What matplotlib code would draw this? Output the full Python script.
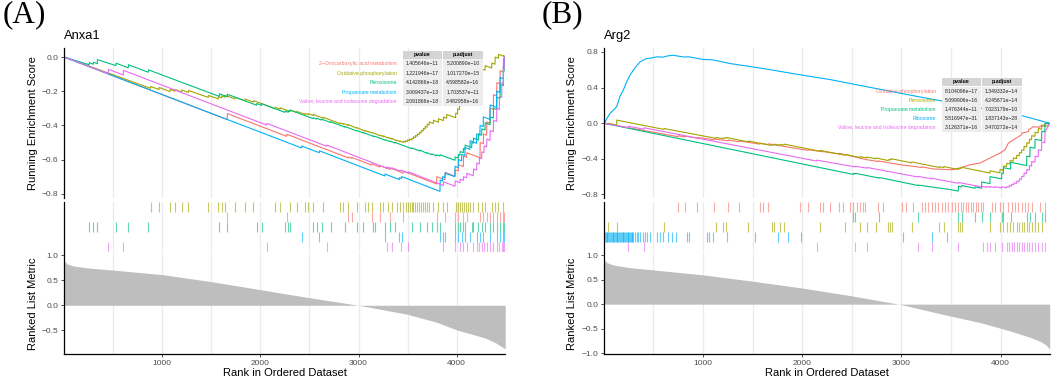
import matplotlib.pyplot as plt
from matplotlib.patches import Rectangle

plt.rcParams['font.family'] = ['Liberation Sans', 'DejaVu Sans']
plt.rcParams['axes.unicode_minus'] = True

W, H = 1052, 381
N_RANK = 4495

# ggplot hue colours
RED, OLIVE, GREEN, BLUE, PINK = '#F8766D', '#A3A500', '#00BF7D', '#00B0F6', '#E76BF3'

# ---------------- panel A : Anxa1 ----------------
a_names = ['2\u2212Oxocarboxylic acid metabolism', 'Oxidative phosphorylation', 'Peroxisome',
           'Propanoate metabolism', 'Valine, leucine and isoleucine degradation']
a_colors = [RED, OLIVE, GREEN, BLUE, PINK]
a_pvalue = ['1.405646e\u221211', '1.221946e\u221217', '4.142866e\u221218', '3.069437e\u221213', '2.091866e\u221218']
a_padjust = ['5.200890e\u221210', '1.017270e\u221215', '4.598582e\u221216', '1.703537e\u221211', '3.482958e\u221216']
a_rug_order = [1, 0, 2, 3, 4]   # top to bottom

a_oxo_rank = [0, 1662, 1664, 2267, 2269, 2895, 2897, 2929, 2931, 3133, 3135, 3218, 3220, 3320, 3322, 3456, 3458,
              3796, 3798, 3881, 3883, 3983, 3985, 4017, 4019, 4068, 4070, 4102, 4104, 4238, 4240, 4272, 4274,
              4306, 4308, 4340, 4342, 4374, 4376, 4408, 4410, 4442, 4444, 4476, 4478, 4495]
a_oxo_es = [0, -0.366, -0.331, -0.464, -0.452, -0.59, -0.585, -0.592, -0.587, -0.632, -0.625, -0.644, -0.636,
            -0.658, -0.649, -0.679, -0.668, -0.743, -0.70, -0.718, -0.675, -0.697, -0.66, -0.667, -0.63, -0.641,
            -0.58, -0.587, -0.56, -0.59, -0.50, -0.507, -0.45, -0.457, -0.38, -0.387, -0.30, -0.307, -0.22,
            -0.227, -0.15, -0.157, -0.08, -0.087, -0.01, -0.004]

a_oxphos_rank = [0, 880, 882, 966, 968, 1078, 1080, 1129, 1131, 1197, 1199, 1265, 1267, 1468, 1470, 1570, 1572,
                 1604, 1606, 1638, 1640, 1740, 1742, 1842, 1844, 1927, 1929, 2148, 2150, 2199, 2201, 2301, 2303,
                 2369, 2371, 2454, 2456, 2488, 2490, 2539, 2541, 2641, 2643, 2811, 2813, 2845, 2847, 2895, 2897,
                 2980, 2982, 3065, 3067, 3099, 3101, 3133, 3135, 3218, 3220, 3252, 3254, 3303, 3305, 3337, 3339,
                 3388, 3390, 3422, 3424, 3456, 3458, 3479, 3481, 3499, 3501, 3519, 3521, 3544, 3546, 3559, 3561,
                 3579, 3581, 3599, 3601, 3619, 3621, 3639, 3641, 3659, 3661, 3679, 3681, 3699, 3701, 3719, 3721,
                 3762, 3764, 3813, 3815, 3864, 3866, 3898, 3900, 3989, 3991, 4009, 4011, 4029, 4031, 4049, 4051,
                 4074, 4076, 4099, 4101, 4119, 4121, 4139, 4141, 4164, 4166, 4221, 4223, 4255, 4257, 4289, 4291,
                 4357, 4359, 4391, 4393, 4425, 4427, 4476, 4478, 4495]
a_oxphos_es = [0, -0.183, -0.172, -0.19, -0.178, -0.202, -0.19, -0.2, -0.19, -0.204, -0.193, -0.207, -0.196,
               -0.236, -0.225, -0.244, -0.232, -0.239, -0.228, -0.235, -0.224, -0.245, -0.235, -0.256, -0.246,
               -0.264, -0.255, -0.302, -0.294, -0.305, -0.297, -0.318, -0.311, -0.325, -0.318, -0.336, -0.33,
               -0.337, -0.331, -0.342, -0.336, -0.358, -0.353, -0.39, -0.386, -0.393, -0.389, -0.4, -0.396,
               -0.416, -0.413, -0.433, -0.43, -0.438, -0.435, -0.444, -0.44, -0.46, -0.457, -0.465, -0.461,
               -0.474, -0.47, -0.48, -0.476, -0.49, -0.486, -0.495, -0.491, -0.5, -0.493, -0.498, -0.49, -0.494,
               -0.485, -0.489, -0.48, -0.485, -0.475, -0.478, -0.467, -0.471, -0.459, -0.463, -0.45, -0.454,
               -0.44, -0.444, -0.429, -0.433, -0.418, -0.422, -0.406, -0.41, -0.393, -0.397, -0.38, -0.389,
               -0.37, -0.381, -0.361, -0.372, -0.351, -0.358, -0.336, -0.355, -0.328, -0.332, -0.303, -0.307,
               -0.278, -0.282, -0.253, -0.258, -0.228, -0.233, -0.203, -0.207, -0.173, -0.177, -0.143, -0.148,
               -0.11, -0.122, -0.09, -0.097, -0.07, -0.077, -0.05, -0.064, -0.035, -0.042, 0.0, -0.007, 0.016,
               0.005, 0.01, 0.0]

a_perox_rank = [0, 255, 257, 296, 298, 337, 339, 527, 529, 653, 655, 857, 859, 1580, 1582, 1662, 1664, 1961, 1963,
                2012, 2014, 2250, 2252, 2284, 2286, 2301, 2303, 2539, 2541, 2573, 2575, 2624, 2626, 2715, 2717,
                2861, 2863, 2980, 2982, 3048, 3050, 3150, 3152, 3167, 3169, 3269, 3271, 3320, 3322, 3371, 3373,
                3541, 3543, 3626, 3628, 3694, 3696, 3745, 3747, 3796, 3798, 3830, 3832, 3983, 3985, 4017, 4019,
                4034, 4036, 4068, 4070, 4085, 4087, 4153, 4155, 4170, 4172, 4221, 4223, 4255, 4257, 4289, 4291,
                4340, 4342, 4374, 4376, 4408, 4410, 4442, 4444, 4476, 4478, 4484, 4486, 4495]
a_perox_es = [0, -0.045, -0.033, -0.042, -0.030, -0.039, -0.015, -0.050, -0.036, -0.063, -0.045, -0.089, -0.075,
              -0.23, -0.215, -0.233, -0.218, -0.282, -0.272, -0.283, -0.273, -0.324, -0.316, -0.323, -0.315,
              -0.318, -0.310, -0.361, -0.356, -0.363, -0.358, -0.369, -0.364, -0.383, -0.379, -0.410, -0.407,
              -0.432, -0.430, -0.444, -0.442, -0.464, -0.462, -0.466, -0.464, -0.486, -0.484, -0.495, -0.492,
              -0.503, -0.500, -0.536, -0.532, -0.550, -0.545, -0.563, -0.560, -0.571, -0.567, -0.578, -0.572,
              -0.579, -0.572, -0.604, -0.585, -0.592, -0.570, -0.574, -0.553, -0.560, -0.535, -0.539, -0.515,
              -0.53, -0.50, -0.504, -0.475, -0.486, -0.45, -0.457, -0.42, -0.427, -0.385, -0.396, -0.35, -0.357,
              -0.30, -0.307, -0.235, -0.242, -0.16, -0.167, -0.08, -0.082, 0.0, -0.002]

a_prop_rank = [0, 2420, 2422, 2600, 2602, 3269, 3271, 3415, 3417, 3439, 3441, 3830, 3832, 3856, 3858, 3880, 3882,
               3982, 3984, 4016, 4018, 4050, 4052, 4084, 4086, 4135, 4137, 4203, 4205, 4237, 4239, 4271, 4273,
               4339, 4341, 4407, 4409, 4441, 4443, 4475, 4477, 4486, 4488, 4495]
a_prop_es = [0, -0.532, -0.521, -0.56, -0.549, -0.696, -0.685, -0.717, -0.706, -0.711, -0.700, -0.786, -0.72,
             -0.725, -0.70, -0.705, -0.68, -0.70, -0.64, -0.647, -0.60, -0.607, -0.57, -0.577, -0.53, -0.54, -0.49,
             -0.505, -0.45, -0.457, -0.40, -0.407, -0.35, -0.365, -0.28, -0.295, -0.20, -0.207, -0.12, -0.127,
             -0.05, -0.052, 0.0, -0.001]

a_valine_rank = [0, 449, 451, 602, 604, 2063, 2065, 2675, 2677, 3286, 3288, 3337, 3339, 3429, 3431, 3507, 3509,
                 3864, 3866, 3983, 3985, 4034, 4036, 4068, 4070, 4102, 4104, 4170, 4172, 4204, 4206, 4231, 4233,
                 4255, 4257, 4278, 4280, 4306, 4308, 4340, 4342, 4374, 4376, 4408, 4410, 4435, 4437, 4459, 4461,
                 4476, 4478, 4484, 4486, 4495]
a_valine_es = [0, -0.097, -0.072, -0.105, -0.078, -0.398, -0.388, -0.522, -0.515, -0.65, -0.643, -0.654, -0.648,
               -0.668, -0.662, -0.679, -0.672, -0.752, -0.73, -0.756, -0.725, -0.736, -0.715, -0.722, -0.70, -0.707,
               -0.68, -0.695, -0.655, -0.662, -0.62, -0.626, -0.59, -0.595, -0.555, -0.56, -0.52, -0.526, -0.48,
               -0.487, -0.43, -0.437, -0.37, -0.377, -0.30, -0.306, -0.23, -0.235, -0.15, -0.153, -0.07, -0.071,
               0.0, -0.002]

a_hits_oxo = [1663, 2268, 2896, 2930, 3134, 3219, 3321, 3457, 3797, 3882, 3984, 4018, 4069, 4103, 4239, 4273,
              4307, 4341, 4375, 4409, 4443, 4477, 4485]
a_hits_oxphos = [881, 967, 1079, 1130, 1198, 1266, 1469, 1571, 1605, 1639, 1741, 1843, 1928, 2149, 2200, 2302,
                 2370, 2455, 2489, 2540, 2642, 2812, 2846, 2896, 2981, 3066, 3100, 3134, 3219, 3253, 3304, 3338,
                 3389, 3423, 3457, 3480, 3500, 3520, 3545, 3560, 3580, 3600, 3620, 3640, 3660, 3680, 3700, 3720,
                 3763, 3814, 3865, 3899, 3990, 4010, 4030, 4050, 4075, 4100, 4120, 4140, 4165, 4222, 4256, 4290,
                 4358, 4392, 4426, 4477]
a_hits_perox = [256, 297, 338, 528, 654, 858, 1581, 1663, 1962, 2013, 2251, 2285, 2302, 2540, 2574, 2625, 2716,
                2862, 2981, 3049, 3151, 3168, 3270, 3321, 3372, 3542, 3627, 3695, 3746, 3797, 3831, 3984, 4018,
                4035, 4069, 4086, 4154, 4171, 4222, 4256, 4290, 4341, 4375, 4409, 4443, 4477, 4485]
a_hits_prop = [2421, 2601, 3270, 3416, 3440, 3831, 3857, 3881, 3983, 4017, 4051, 4085, 4136, 4204, 4238, 4272,
               4340, 4408, 4442, 4476, 4487]
a_hits_valine = [450, 603, 2064, 2676, 3287, 3338, 3430, 3508, 3865, 3984, 4035, 4069, 4103, 4171, 4205, 4232,
                 4256, 4279, 4307, 4341, 4375, 4409, 4436, 4460, 4477, 4485]

a_metric_rank = [0, 30, 100, 250, 500, 1000, 1500, 2000, 2500, 3000, 3500, 3800, 4000, 4200, 4300, 4400, 4495]
a_metric_val = [0.88, 0.82, 0.78, 0.74, 0.70, 0.61, 0.47, 0.31, 0.15, 0.0, -0.18, -0.34, -0.49, -0.60, -0.66,
                -0.75, -0.87]

# ---------------- panel B : Arg2 ----------------
b_names = ['Oxidative phosphorylation', 'Peroxisome', 'Propanoate metabolism', 'Ribosome',
           'Valine, leucine and isoleucine degradation']
b_colors = [RED, OLIVE, GREEN, BLUE, PINK]
b_pvalue = ['8.104096e\u221217', '5.099906e\u221216', '1.476344e\u221211', '5.516947e\u221231', '3.126371e\u221216']
b_padjust = ['1.349332e\u221214', '4.245671e\u221214', '7.023179e\u221210', '1.837143e\u221228', '3.470272e\u221214']
b_rug_order = [0, 2, 1, 3, 4]

b_oxphos_rank = [0, 750, 752, 818, 820, 942, 944, 1110, 1112, 1254, 1256, 1365, 1367, 1574, 1576, 1660, 1662,
                 1978, 2061, 2063, 2280, 2373, 2375, 2650, 2766, 2768, 2986, 3203, 3205, 3322, 3490, 3540, 3542,
                 3591, 3692, 3793, 3893, 3994, 4044, 4078, 4128, 4212, 4214, 4280, 4282, 4330, 4396, 4398, 4446,
                 4448, 4495]
b_oxphos_es = [0, -0.152, -0.14, -0.155, -0.145, -0.168, -0.16, -0.186, -0.178, -0.198, -0.19, -0.208, -0.2,
               -0.235, -0.226, -0.24, -0.232, -0.29, -0.305, -0.298, -0.33, -0.345, -0.338, -0.41, -0.43, -0.424,
               -0.466, -0.497, -0.49, -0.514, -0.522, -0.52, -0.512, -0.503, -0.466, -0.447, -0.391, -0.335,
               -0.298, -0.224, -0.187, -0.13, -0.11, -0.095, -0.075, -0.04, -0.045, -0.03, -0.035, -0.005, 0.0]

b_perox_rank = [0, 45, 47, 129, 131, 606, 608, 1130, 1132, 1204, 1206, 1231, 1233, 1456, 1458, 1691, 1693, 1715,
                1717, 1775, 1777, 1816, 1818, 2178, 2180, 2430, 2432, 2582, 2584, 2649, 2651, 2743, 2745, 2867,
                2869, 2884, 2886, 2901, 2903, 3102, 3104, 3381, 3383, 3428, 3430, 3573, 3575, 3590, 3592, 3606,
                3608, 3892, 3894, 3993, 3995, 4027, 4029, 4060, 4062, 4094, 4096, 4127, 4129, 4161, 4163, 4188,
                4190, 4211, 4213, 4235, 4237, 4262, 4264, 4289, 4291, 4312, 4314, 4346, 4348, 4379, 4381, 4413,
                4415, 4480, 4482, 4495]
b_perox_es = [0, -0.01, -0.002, -0.02, 0.035, -0.07, -0.06, -0.17, -0.16, -0.175, -0.165, -0.17, -0.16, -0.21,
              -0.2, -0.25, -0.24, -0.245, -0.235, -0.248, -0.238, -0.247, -0.235, -0.315, -0.305, -0.36, -0.35,
              -0.385, -0.375, -0.39, -0.38, -0.40, -0.39, -0.42, -0.41, -0.414, -0.405, -0.409, -0.40, -0.445,
              -0.435, -0.497, -0.488, -0.498, -0.488, -0.52, -0.51, -0.514, -0.503, -0.506, -0.495, -0.56, -0.535,
              -0.557, -0.52, -0.527, -0.48, -0.487, -0.45, -0.457, -0.42, -0.427, -0.39, -0.397, -0.36, -0.366,
              -0.33, -0.335, -0.30, -0.305, -0.26, -0.266, -0.22, -0.226, -0.18, -0.185, -0.14, -0.147, -0.10,
              -0.107, -0.06, -0.067, -0.02, -0.035, 0.0, -0.002]

b_prop_rank = [0, 2514, 2516, 2531, 2533, 2776, 2778, 3169, 3171, 3490, 3573, 3575, 3606, 3608, 3741, 3743, 3808,
               3810, 3892, 3894, 4010, 4012, 4027, 4029, 4100, 4102, 4262, 4264, 4295, 4297, 4346, 4348, 4413,
               4415, 4446, 4448, 4495]
b_prop_es = [0, -0.575, -0.567, -0.57, -0.562, -0.616, -0.61, -0.70, -0.695, -0.745, -0.762, -0.708, -0.715,
             -0.70, -0.73, -0.715, -0.73, -0.66, -0.678, -0.60, -0.625, -0.56, -0.565, -0.50, -0.515, -0.44,
             -0.475, -0.37, -0.377, -0.27, -0.28, -0.18, -0.195, -0.09, -0.097, 0.0, -0.01]

b_ribo_rank = [0, 12, 30, 62, 100, 130, 163, 200, 231, 265, 298, 335, 365, 400, 432, 470, 499, 535, 600, 640, 701,
               740, 802, 862, 1003, 1045, 1104, 1272, 1608, 1945, 2280, 3019, 3305, 3456, 4213, 4495]
b_ribo_es = [0, 0.01, 0.05, 0.11, 0.15, 0.186, 0.30, 0.38, 0.465, 0.54, 0.596, 0.65, 0.688, 0.71, 0.726, 0.73,
             0.737, 0.745, 0.742, 0.755, 0.763, 0.755, 0.744, 0.745, 0.715, 0.715, 0.71, 0.67, 0.614, 0.55, 0.49,
             0.33, 0.27, 0.24, 0.085, 0.0]

b_valine_rank = [0, 246, 248, 404, 406, 2145, 2147, 2531, 2533, 2655, 2657, 3169, 3171, 3304, 3306, 3573, 3575,
                 3818, 3820, 3858, 3860, 3892, 3894, 3943, 3945, 4010, 4012, 4060, 4062, 4087, 4089, 4110, 4112,
                 4134, 4136, 4161, 4163, 4188, 4190, 4211, 4213, 4235, 4237, 4262, 4264, 4289, 4291, 4312, 4314,
                 4346, 4348, 4379, 4381, 4413, 4415, 4446, 4448, 4495]
b_valine_es = [0, -0.05, -0.035, -0.067, -0.052, -0.425, -0.415, -0.49, -0.483, -0.505, -0.498, -0.605, -0.598,
               -0.625, -0.618, -0.675, -0.665, -0.718, -0.712, -0.72, -0.712, -0.72, -0.712, -0.722, -0.714, -0.728,
               -0.715, -0.726, -0.712, -0.718, -0.70, -0.705, -0.685, -0.69, -0.67, -0.676, -0.65, -0.656, -0.625,
               -0.63, -0.595, -0.6, -0.56, -0.566, -0.52, -0.526, -0.475, -0.48, -0.43, -0.437, -0.37, -0.377,
               -0.30, -0.307, -0.21, -0.217, -0.10, 0.0]

b_hits_oxphos = [751, 819, 943, 1111, 1255, 1366, 1575, 1608, 1659, 1978, 2062, 2179, 2213, 2280, 2374, 2415, 2482,
                 2515, 2549, 2583, 2616, 2633, 2767, 2811, 3003, 3046, 3120, 3204, 3238, 3272, 3305, 3339, 3372,
                 3406, 3440, 3473, 3507, 3540, 3574, 3597, 3624, 3651, 3675, 3698, 3725, 3752, 3775, 3799, 3826,
                 3910, 3944, 3994, 4028, 4078, 4111, 4145, 4179, 4212, 4246, 4280, 4313, 4397, 4447]
b_hits_perox = [46, 130, 607, 1131, 1205, 1232, 1457, 1692, 1716, 1776, 1817, 2179, 2431, 2583, 2650, 2744, 2868,
                2885, 2902, 3103, 3382, 3429, 3574, 3591, 3607, 3893, 3994, 4028, 4061, 4095, 4128, 4162, 4189,
                4212, 4236, 4263, 4290, 4313, 4347, 4380, 4414]
b_hits_prop = [2515, 2532, 2777, 3170, 3574, 3607, 3742, 3809, 3893, 4011, 4028, 4101, 4263, 4296, 4347, 4414,
               4447]
b_hits_ribo = [12, 20, 29, 37, 46, 54, 63, 71, 79, 88, 96, 104, 113, 121, 130, 138, 147, 155, 163, 172, 180, 189,
               197, 205, 214, 222, 231, 239, 247, 256, 264, 272, 281, 289, 298, 315, 331, 348, 365, 392, 415, 439,
               466, 533, 567, 600, 651, 684, 728, 835, 862, 1044, 1064, 1104, 1239, 1524, 1759, 1860, 1984, 3019,
               3305, 3456]
b_hits_valine = [247, 405, 2146, 2532, 2656, 3170, 3305, 3574, 3819, 3859, 3893, 3944, 4011, 4061, 4088, 4111,
                 4135, 4162, 4189, 4212, 4236, 4263, 4290, 4313, 4347, 4380, 4414, 4447]

b_metric_rank = [0, 30, 100, 250, 500, 1000, 1500, 2000, 2500, 3000, 3400, 3800, 4100, 4300, 4400, 4460, 4495]
b_metric_val = [0.92, 0.85, 0.80, 0.75, 0.70, 0.60, 0.47, 0.33, 0.17, -0.01, -0.20, -0.38, -0.55, -0.68, -0.76,
                -0.84, -0.92]


fig = plt.figure(figsize=(W / 100, H / 100), dpi=100)


def box(x0, y0, x1, y1):
    return [x0 / W, 1 - y1 / H, (x1 - x0) / W, (y1 - y0) / H]


def style(ax, bottom=False):
    for s in ['top', 'right']:
        ax.spines[s].set_visible(False)
    ax.spines['bottom'].set_visible(bottom)
    ax.spines['left'].set_linewidth(0.9)
    ax.spines['bottom'].set_linewidth(0.9)
    ax.tick_params(labelsize=6, colors='#333333', labelcolor='#4D4D4D', length=2.5, width=0.6, pad=1.5)
    ax.set_xlim(0, N_RANK)
    for g in range(500, N_RANK, 500):
        ax.axvline(g, color='#EBEBEB', lw=0.9, zorder=0)


def panel(x0, x1, tag, title, es_lim, es_ticks, curves, colors, hits, rug_order, m_rank, m_val, m_lim, m_ticks):
    ax1 = fig.add_axes(box(x0, 47.5, x1, 198))
    style(ax1)
    for (r, e), c in zip(curves, colors):
        ax1.plot(r, e, color=c, lw=0.8)
    ax1.set_ylim(*es_lim)
    ax1.set_yticks(es_ticks)
    ax1.set_xticks([])
    ax1.set_ylabel('Running Enrichment Score', fontsize=8, labelpad=3)

    ax2 = fig.add_axes(box(x0, 201.5, x1, 252))
    style(ax2)
    for row, k in enumerate(rug_order):
        ax2.vlines(hits[k], 4 - row, 5 - row, color=colors[k], lw=0.8, alpha=0.6)
    ax2.set_ylim(0, 5)
    ax2.set_xticks([])
    ax2.set_yticks([])

    ax3 = fig.add_axes(box(x0, 253, x1, 354))
    style(ax3, bottom=True)
    ax3.fill_between(m_rank, 0, m_val, color='#BEBEBE', lw=0)
    ax3.set_ylim(*m_lim)
    ax3.set_yticks(m_ticks)
    ax3.set_xticks([1000, 2000, 3000, 4000])
    ax3.set_ylabel('Ranked List Metric', fontsize=8, labelpad=3)
    ax3.set_xlabel('Rank in Ordered Dataset', fontsize=8, labelpad=1)

    fig.text(x0 / W, 1 - 36 / H, title, fontsize=9.3, ha='left', va='center')
    fig.text((x0 - 62) / W, 1 - 15 / H, tag, fontsize=22.5, family='Liberation Serif', ha='left', va='center')


def table(x_lab, c1, c2, y_top, row_h, names, colors, pv, pa):
    head_h = 8.0
    body_top = y_top + head_h + 0.8
    for (a, b), head, vals in [(c1, 'pvalue', pv), (c2, 'p.adjust', pa)]:
        fig.add_artist(Rectangle((a / W, 1 - (y_top + head_h) / H), (b - a) / W, head_h / H,
                                 transform=fig.transFigure, color='#D4D4D4', lw=0))
        fig.add_artist(Rectangle((a / W, 1 - (body_top + 5 * row_h) / H), (b - a) / W, 5 * row_h / H,
                                 transform=fig.transFigure, color='#EDEDED', lw=0))
        fig.text((a + b) / 2 / W, 1 - (y_top + head_h / 2) / H, head, fontsize=3.8, fontweight='bold',
                 ha='center', va='center')
        for i, v in enumerate(vals):
            fig.text((a + b) / 2 / W, 1 - (body_top + (i + 0.5) * row_h) / H, v, fontsize=3.7,
                     ha='center', va='center', color='#222222')
    for i, (n, c) in enumerate(zip(names, colors)):
        fig.text(x_lab / W, 1 - (body_top + (i + 0.5) * row_h) / H, n, fontsize=3.7, color=c,
                 ha='right', va='center')


panel(64.2, 505.2, '(A)', 'Anxa1', (-0.825, 0.056), [0, -0.2, -0.4, -0.6, -0.8],
      [(a_oxo_rank, a_oxo_es), (a_oxphos_rank, a_oxphos_es), (a_perox_rank, a_perox_es),
       (a_prop_rank, a_prop_es), (a_valine_rank, a_valine_es)],
      a_colors, [a_hits_oxo, a_hits_oxphos, a_hits_perox, a_hits_prop, a_hits_valine], a_rug_order,
      a_metric_rank, a_metric_val, (-0.97, 1.04), [-0.5, 0, 0.5, 1.0])

panel(603.8, 1049.7, '(B)', 'Arg2', (-0.84, 0.85), [-0.8, -0.4, 0, 0.4, 0.8],
      [(b_oxphos_rank, b_oxphos_es), (b_perox_rank, b_perox_es), (b_prop_rank, b_prop_es),
       (b_ribo_rank, b_ribo_es), (b_valine_rank, b_valine_es)],
      b_colors, [b_hits_oxphos, b_hits_perox, b_hits_prop, b_hits_ribo, b_hits_valine], b_rug_order,
      b_metric_rank, b_metric_val, (-1.02, 1.047), [-1.0, -0.5, 0, 0.5, 1.0])

table(396.7, (403.3, 441.7), (443.0, 482.7), 50.5, 9.35, a_names, a_colors, a_pvalue, a_padjust)
table(935.7, (941.7, 981.0), (981.7, 1021.7), 77.7, 9.1, b_names, b_colors, b_pvalue, b_padjust)

fig.savefig('out.png', dpi=100)
